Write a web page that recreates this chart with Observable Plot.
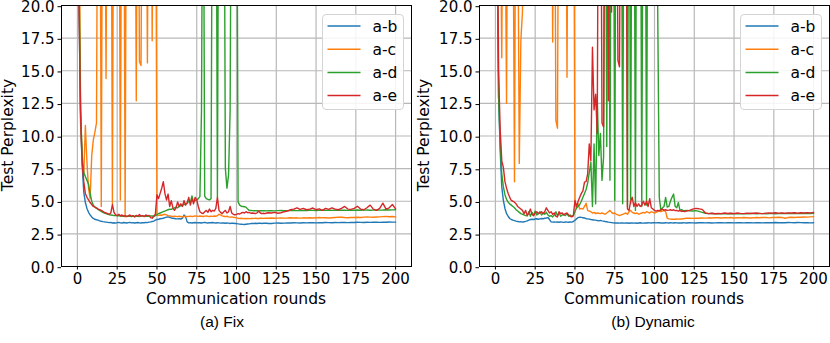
<!DOCTYPE html>
<html><head><meta charset="utf-8">
<script src="https://cdn.jsdelivr.net/npm/d3@7"></script>
<script src="https://cdn.jsdelivr.net/npm/@observablehq/plot@0.6"></script>
<style>
html,body{margin:0;padding:0;background:#fff;}
#wrap{position:relative;width:830px;height:343px;overflow:hidden;font-family:"DejaVu Sans",sans-serif;}
.panel{position:absolute;top:0;}
.lbl{position:absolute;font-family:"DejaVu Sans",sans-serif;font-size:15.5px;color:#000;white-space:nowrap;line-height:1;transform:translate(-50%,-50%);}
.rot{transform:translate(-50%,-50%) rotate(-90deg);}
.cap{position:absolute;font-family:"Liberation Sans",Arial,sans-serif;font-size:15.5px;white-space:nowrap;line-height:1;transform:translate(-50%,-50%);}
.legend{position:absolute;box-sizing:border-box;border:1px solid #d4d4d4;border-radius:4px;background:rgba(255,255,255,0.85);}
</style></head><body><div id="wrap"></div>
<script>
const seriesNames = ["a-b", "a-c", "a-d", "a-e"];
const seriesColors = ["#1f77b4", "#ff7f0e", "#2ca02c", "#d62728"];
const xTicks = [0, 25, 50, 75, 100, 125, 150, 175, 200];
const yTicks = [0, 2.5, 5, 7.5, 10, 12.5, 15, 17.5, 20];
const roundsHead = d3.range(0, 121);      // rounds 0..120
const roundsTail = d3.range(122, 201, 2); // rounds 122..200 every 2

// ---------- (a) Fix ----------
const fixAB_head = [60,20,11,7.8,5.7,4.9,4.45,4.15,3.95,3.8,
3.68,3.62,3.58,3.55,3.5,3.47,3.44,3.42,3.4,3.38,
3.36,3.38,3.33,3.35,3.32,3.36,3.38,3.34,3.33,3.37,
3.35,3.33,3.36,3.38,3.34,3.36,3.33,3.35,3.37,3.34,
3.33,3.36,3.35,3.38,3.36,3.4,3.42,3.45,3.48,3.55,
3.6,3.62,3.66,3.68,3.7,3.74,3.78,3.8,3.77,3.72,
3.7,3.68,3.66,3.65,3.67,3.64,3.7,3.95,3.8,3.42,
3.34,3.36,3.33,3.35,3.37,3.34,3.36,3.35,3.33,3.36,
3.38,3.35,3.33,3.36,3.35,3.37,3.34,3.33,3.35,3.34,
3.32,3.34,3.33,3.31,3.33,3.32,3.3,3.32,3.31,3.3,
3.29,3.27,3.25,3.24,3.23,3.22,3.24,3.26,3.27,3.29,
3.3,3.3,3.31,3.3,3.31,3.32,3.3,3.31,3.32,3.31,
3.3];
const fixAB_tail = [3.3,3.32,3.33,3.31,3.32, 3.34,3.33,3.35,3.34,3.33, 3.35,3.34,3.36,3.35,3.34, 3.36,3.35,3.37,3.36,3.35,
3.37,3.36,3.38,3.37,3.36, 3.38,3.37,3.39,3.38,3.37, 3.39,3.38,3.4,3.39,3.38, 3.4,3.39,3.41,3.4,3.4];

const fixAC_head = [60,30,12,7.8,7.0,10.8,8.0,6.0,5.2,8.5,
9.7,10.3,11.0,40,40,4.6,40,40,14.4,40,
40,40,4.8,40,40,40,40,5.1,40,40,
3.8,40,40,40,40,40,40,12.7,40,15.7,
15.4,40,40,40,15.6,40,40,17.3,40,40,
3.9,3.92,3.95,3.93,3.97,4.0,3.95,3.9,3.88,3.85,
3.83,3.86,3.84,3.82,3.85,3.83,3.8,3.83,3.85,3.82,
3.84,3.86,3.83,3.85,3.88,3.86,3.84,3.87,3.85,3.83,
3.86,3.88,3.85,3.83,3.86,3.84,3.87,3.85,3.9,4.0,
3.95,3.88,3.85,3.82,3.85,3.8,3.78,3.8,3.77,3.75,
3.73,3.7,3.68,3.7,3.67,3.68,3.66,3.68,3.67,3.69,
3.68,3.69,3.7,3.68,3.68,3.71,3.7,3.69,3.7,3.71,
3.7];
const fixAC_tail = [3.72,3.7,3.71,3.73,3.71, 3.72,3.74,3.72,3.73,3.71, 3.73,3.72,3.74,3.72,3.73, 3.75,3.73,3.74,3.72,3.74,
3.76,3.78,3.77,3.75,3.74, 3.76,3.75,3.77,3.76,3.78, 3.8,3.78,3.77,3.79,3.8, 3.82,3.84,3.81,3.83,3.8];

const fixAD_head = [60,22,12,8.5,7.2,6.9,6.6,6.3,5.6,5.0,
4.7,4.55,4.45,4.38,4.3,4.22,4.15,4.1,4.05,4.0,
3.97,3.95,3.93,3.9,3.92,3.88,3.9,3.87,3.85,3.88,
3.86,3.84,3.87,3.85,3.83,3.86,3.84,3.87,3.85,3.83,
3.86,3.88,3.85,3.87,3.84,3.86,3.88,3.87,3.85,3.9,
3.98,4.05,4.1,4.15,4.2,4.25,4.3,4.35,4.4,4.38,
4.45,4.5,4.55,4.5,4.6,4.65,4.7,4.75,4.8,4.85,
5.0,4.9,5.4,4.95,5.05,5.1,5.2,5.35,12,40,
5.4,5.2,5.15,5.1,5.2,40,40,40,5.3,40,
40,40,40,7.5,6.0,7.0,12,40,40,40,
40,4.95,4.7,4.62,4.6,4.58,4.55,4.4,4.3,4.29,
4.28,4.27,4.27,4.28,4.26,4.27,4.27,4.28,4.27,4.26,
4.27];
const fixAD_tail = [4.27,4.26,4.28,4.29,4.27, 4.28,4.29,4.3,4.28,4.29, 4.3,4.29,4.31,4.3,4.29, 4.3,4.31,4.3,4.32,4.3,
4.31,4.3,4.32,4.31,4.3, 4.32,4.31,4.33,4.31,4.32, 4.33,4.31,4.32,4.34,4.32, 4.33,4.35,4.33,4.34,4.35];

const fixAE_head = [60,20,11.5,8.0,6.5,5.6,5.3,5.1,4.9,4.75,
4.6,4.55,4.5,4.4,4.35,4.3,4.22,4.15,4.1,4.05,
4.0,4.1,4.75,4.15,3.95,3.9,4.0,3.88,3.95,3.85,
3.9,3.82,3.88,3.95,3.85,3.9,3.8,3.92,3.85,3.98,
3.86,3.9,3.82,3.95,3.88,3.92,3.75,3.7,3.85,4.0,
5.5,5.2,5.6,6.0,6.5,5.6,5.1,5.55,4.6,5.05,
4.5,4.3,4.5,4.95,4.6,4.8,4.6,5.05,4.7,4.9,
5.3,4.7,5.2,4.8,5.3,5.1,4.6,4.2,4.1,4.05,
4.2,4.3,4.15,4.4,4.2,4.3,4.25,4.45,5.3,4.3,
4.15,4.05,4.2,4.3,4.1,4.2,4.6,4.1,4.0,3.95,
4.0,4.05,4.02,4.1,4.15,4.1,4.2,4.12,4.15,4.08,
4.1,4.08,4.05,4.12,4.25,4.1,4.05,4.08,4.05,4.1,
4.12];
const fixAE_tail = [4.1,4.15,4.08,4.12,4.2, 4.25,4.35,4.4,4.5,4.38, 4.45,4.35,4.4,4.48,4.35, 4.42,4.3,4.45,4.38,4.5,
4.4,4.35,4.45,4.6,4.4, 4.38,4.45,4.62,4.4,4.35, 4.5,4.7,4.4,4.3,4.45, 4.85,4.4,4.5,4.75,4.42];

// ---------- (b) Dynamic ----------
const dynAB_head = [60,25,13,8.9,6.1,5.06,4.45,4.05,3.85,3.68,
3.6,3.55,3.52,3.48,3.45,3.42,3.44,3.4,3.43,3.46,
3.5,3.55,3.6,3.62,3.6,3.64,3.66,3.62,3.65,3.68,
3.66,3.7,3.72,3.75,3.6,3.42,3.4,3.42,3.4,3.41,
3.39,3.42,3.4,3.38,3.41,3.4,3.39,3.41,3.4,3.45,
3.55,3.65,3.75,3.78,3.76,3.74,3.72,3.66,3.65,3.63,
3.6,3.58,3.56,3.55,3.52,3.5,3.53,3.5,3.48,3.45,
3.43,3.4,3.38,3.36,3.34,3.33,3.34,3.33,3.32,3.34,
3.33,3.32,3.34,3.33,3.31,3.33,3.34,3.32,3.33,3.31,
3.33,3.35,3.33,3.32,3.34,3.33,3.35,3.34,3.33,3.36,
3.35,3.34,3.36,3.35,3.33,3.34,3.33,3.35,3.34,3.33,
3.35,3.34,3.33,3.35,3.34,3.33,3.34,3.33,3.35,3.34,
3.33];
const dynAB_tail = [3.35,3.34,3.33,3.35,3.36, 3.34,3.35,3.33,3.34,3.36, 3.35,3.34,3.36,3.35,3.34, 3.36,3.35,3.34,3.36,3.35,
3.34,3.35,3.36,3.34,3.35, 3.36,3.35,3.37,3.35,3.36, 3.35,3.37,3.36,3.35,3.37, 3.36,3.35,3.36,3.34,3.35];

const dynAC_head = [60,40,40,30,16.0,40,30,12.5,40,40,
40,30,6.5,40,30,7.9,17.3,19.5,40,40,
40,40,40,40,40,40,40,40,40,40,
40,40,40,40,40,40,17.2,40,11.2,10.6,
40,40,40,40,40,14.5,40,40,40,40,
5.0,4.45,4.8,4.4,4.45,4.4,4.6,4.85,4.3,4.25,
4.2,4.1,4.15,4.05,4.1,4.08,4.05,4.1,4.05,4.0,
4.1,4.2,4.3,4.15,4.05,4.1,4.0,3.95,3.9,3.95,
4.0,4.05,4.1,4.0,4.2,4.3,4.15,4.1,4.05,4.1,
4.0,4.05,4.1,4.15,4.1,4.2,4.15,4.1,4.2,4.15,
4.1,4.15,4.2,4.25,4.2,4.25,4.3,4.2,3.7,3.65,
3.63,3.62,3.63,3.62,3.64,3.63,3.65,3.64,3.66,3.68,
3.7];
const dynAC_tail = [3.7,3.69,3.71,3.7,3.72, 3.71,3.73,3.72,3.74,3.73, 3.72,3.74,3.73,3.75,3.72, 3.74,3.73,3.75,3.74,3.72,
3.73,3.75,3.74,3.76,3.75, 3.73,3.76,3.75,3.77,3.76, 3.7,3.75,3.77,3.76,3.78, 3.77,3.79,3.78,3.8,3.82];

const dynAD_head = [60,25,13,9.5,7.1,6.1,5.5,5.15,4.93,4.8,
4.7,4.6,4.5,4.35,4.25,4.15,4.05,4.0,3.95,3.9,
3.88,4.2,3.85,4.15,3.9,4.25,3.95,4.05,4.2,3.95,
4.1,4.0,4.15,3.95,3.85,3.9,3.8,3.95,4.2,3.9,
4.1,3.85,3.95,4.0,3.9,4.05,3.85,3.95,3.85,3.9,
4.2,4.5,4.6,4.75,5.0,5.3,5.6,5.9,6.4,7.2,
8.0,4.6,9.4,4.8,13.0,8.5,10.2,6.6,8.4,40,
9.2,40,6.6,40,40,5.06,40,40,40,40,
4.8,40,40,4.6,40,4.8,40,40,4.3,40,
40,40,4.6,40,40,4.7,40,40,40,40,
40,40,20,5.3,4.3,4.5,4.6,5.3,4.55,4.6,
5.0,5.3,5.55,4.6,4.5,4.9,4.3,4.35,4.3,4.28,
4.3];
const dynAD_tail = [4.27,4.25,4.28,4.22,4.15, 4.08,4.05,4.06,4.04,4.05, 4.03,4.05,4.04,4.06,4.04, 4.05,4.03,4.05,4.04,4.06,
4.05,4.04,4.06,4.05,4.03, 4.05,4.06,4.04,4.05,4.06, 4.05,4.07,4.05,4.06,4.05, 4.07,4.06,4.08,4.06,4.07];

const dynAE_head = [60,30,15,10.5,8.1,7.6,6.5,6.0,5.6,5.3,
5.06,5.0,4.93,4.8,4.6,4.5,4.4,4.3,4.04,4.3,
3.9,4.1,4.4,4.0,3.9,4.1,4.2,4.05,4.1,4.2,
4.05,4.2,4.5,4.3,4.1,4.2,4.0,4.1,3.85,3.8,
4.2,4.05,4.1,3.95,4.05,4.1,3.95,3.85,3.8,3.9,
5.06,4.6,5.0,5.3,5.6,5.8,6.46,6.5,7.1,9.4,
8.1,16.8,12.0,13.2,10.2,40,40,11.0,10.7,40,
40,12.7,40,19.5,40,40,40,15.8,15.3,40,
40,40,40,4.4,4.3,5.0,5.3,4.6,4.9,4.6,
4.8,4.6,4.7,5.0,4.7,5.0,4.6,5.2,4.5,4.4,
4.3,4.25,4.3,4.28,4.35,4.4,4.3,4.35,4.3,4.32,
4.35,4.3,4.35,4.28,4.3,4.25,4.28,4.22,4.25,4.2,
4.25];
const dynAE_tail = [4.3,4.4,4.45,4.42,4.38, 4.1,4.05,4.08,4.04,4.06, 4.05,4.1,4.06,4.08,4.05, 4.1,4.07,4.05,4.09,4.06,
4.08,4.1,4.07,4.05,4.09, 4.1,4.08,4.12,4.09,4.1, 4.08,4.11,4.1,4.12,4.09, 4.12,4.1,4.13,4.11,4.14];

const fixSeries = [fixAB_head, fixAB_tail, fixAC_head, fixAC_tail, fixAD_head, fixAD_tail, fixAE_head, fixAE_tail];
const dynSeries = [dynAB_head, dynAB_tail, dynAC_head, dynAC_tail, dynAD_head, dynAD_tail, dynAE_head, dynAE_tail];

function buildRows(arrs) {
  const rows = [];
  seriesNames.forEach((name, k) => {
    const head = arrs[2 * k], tail = arrs[2 * k + 1];
    if (head.length !== roundsHead.length || tail.length !== roundsTail.length)
      console.error("length mismatch", name, head.length, tail.length);
    roundsHead.forEach((r, i) => { if (i < head.length) rows.push({round: r, value: head[i], series: name}); });
    roundsTail.forEach((r, i) => { if (i < tail.length) rows.push({round: r, value: tail[i], series: name}); });
  });
  return rows;
}

function makePlot(rows, mL, mR) {
  return Plot.plot({
    width: 415, height: 290,
    marginTop: 5, marginBottom: 24, marginLeft: mL, marginRight: mR,
    x: {domain: [-10, 210], label: null},
    y: {domain: [0, 20], label: null},
    color: {domain: seriesNames, range: seriesColors},
    style: {fontFamily: "DejaVu Sans", fontSize: "15px", color: "#000", background: "transparent", overflow: "visible"},
    marks: [
      Plot.gridX(xTicks, {stroke: "#b8b8b8", strokeOpacity: 1, strokeWidth: 1.2}),
      Plot.gridY(yTicks, {stroke: "#b8b8b8", strokeOpacity: 1, strokeWidth: 1.2}),
      Plot.line(rows, {x: "round", y: "value", z: "series", stroke: "series", strokeWidth: 1.4, clip: true}),
      Plot.frame({stroke: "#000", strokeWidth: 1}),
      Plot.axisX(xTicks, {tickSize: 3.5, tickPadding: 3.5, label: null, stroke: "#000"}),
      Plot.axisY(yTicks, {tickSize: 3.5, tickPadding: 3.5, tickFormat: d3.format(".1f"), label: null, stroke: "#000", dy: 1.2})
    ]
  });
}

const wrap = document.getElementById("wrap");
function addPanel(node, left) {
  const d = document.createElement("div");
  d.className = "panel"; d.style.left = left + "px";
  d.appendChild(node); wrap.appendChild(d);
}
addPanel(makePlot(buildRows(fixSeries), 61, 4), 0);
addPanel(makePlot(buildRows(dynSeries), 64, 1), 415);

function addText(cls, text, cx, cy) {
  const d = document.createElement("div");
  d.className = cls; d.textContent = text;
  d.style.left = cx + "px"; d.style.top = cy + "px";
  wrap.appendChild(d);
}
addText("lbl rot", "Test Perplexity", 8.8, 135);
addText("lbl", "Communication rounds", 236, 299.5);
addText("cap", "(a) Fix", 222, 321.5);
addText("lbl rot", "Test Perplexity", 425, 135);
addText("lbl", "Communication rounds", 654, 299.5);
addText("cap", "(b) Dynamic", 653, 321.5);

function addLegend(left, top) {
  const box = document.createElement("div");
  box.className = "legend";
  box.style.left = left + "px"; box.style.top = top + "px";
  box.style.width = "82px"; box.style.height = "96px";
  const ns = "http://www.w3.org/2000/svg";
  const svg = document.createElementNS(ns, "svg");
  svg.setAttribute("width", 80); svg.setAttribute("height", 94);
  svg.style.position = "absolute"; svg.style.left = "0px"; svg.style.top = "0px";
  seriesNames.forEach((name, i) => {
    const y = 11 + i * 23.2;
    const ln = document.createElementNS(ns, "line");
    ln.setAttribute("x1", 4.5); ln.setAttribute("x2", 37.5);
    ln.setAttribute("y1", y); ln.setAttribute("y2", y);
    ln.setAttribute("stroke", seriesColors[i]); ln.setAttribute("stroke-width", 1.5);
    svg.appendChild(ln);
    const t = document.createElementNS(ns, "text");
    t.setAttribute("x", 49.5); t.setAttribute("y", y);
    t.setAttribute("dy", "0.36em");
    t.setAttribute("font-family", "DejaVu Sans"); t.setAttribute("font-size", "15.5px");
    t.textContent = name;
    svg.appendChild(t);
  });
  box.appendChild(svg);
  wrap.appendChild(box);
}
addLegend(321.5, 14);
addLegend(740, 14);
</script>
</body></html>
